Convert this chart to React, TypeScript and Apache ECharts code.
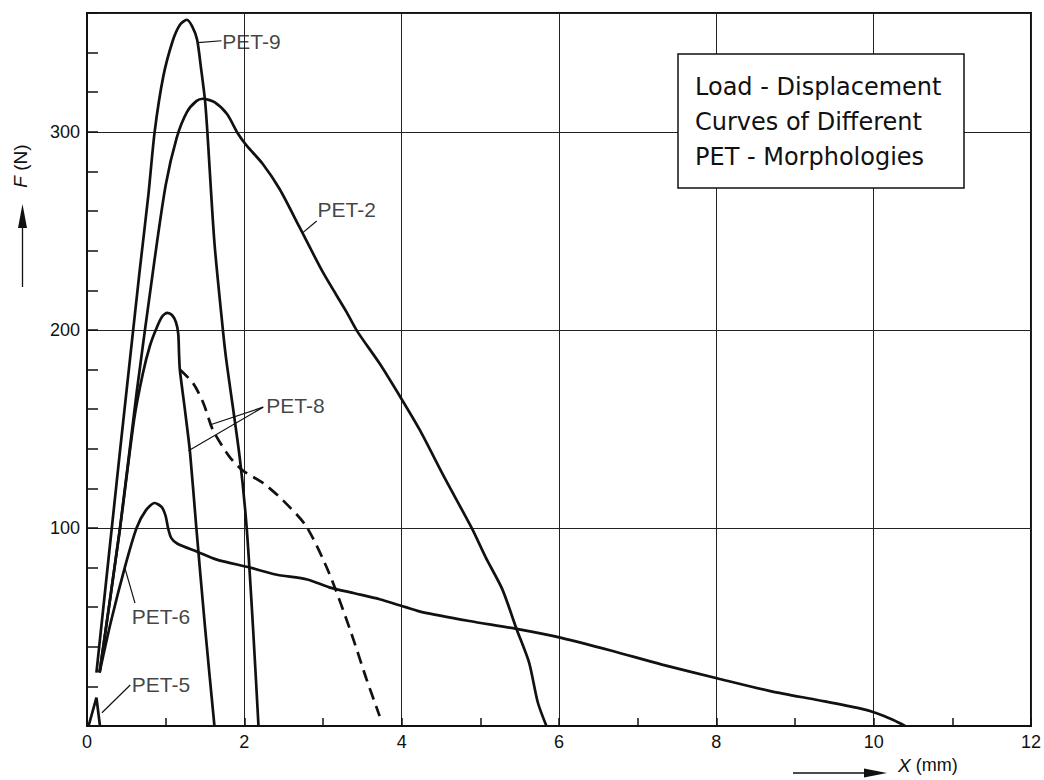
import React, { useEffect, useRef } from "react";
import * as echarts from "echarts";

// Load-displacement curves: [X (mm), F (N)]
const pet9 = [[0.12,27],[0.42,139],[0.67,230],[0.78,268],[0.86,300],[0.97,328],[1.09,346],[1.18,354],[1.27,356.6],[1.34,353],[1.40,346.5],[1.45,332],[1.50,316],[1.53,300],[1.62,244],[1.73,199],[1.77,185],[1.94,136],[2.03,100],[2.11,50],[2.18,0]];
const pet2 = [[0.16,27],[0.42,100],[0.63,168],[0.84,230],[1.0,273],[1.14,297],[1.27,310],[1.39,315.5],[1.47,316.7],[1.62,315],[1.78,309],[1.92,299],[2.03,293],[2.23,284],[2.45,271],[2.70,252],[3.0,229],[3.30,209],[3.44,199],[3.72,183],[4.0,165],[4.23,149.5],[4.55,125],[4.89,100],[5.07,85],[5.28,69],[5.46,49],[5.62,32],[5.73,12],[5.84,0]];
const pet8 = [[0.16,27],[0.42,100],[0.60,155],[0.71,178],[0.80,192],[0.89,201.5],[0.96,207],[1.02,208.6],[1.08,207.5],[1.13,204],[1.16,198],[1.17,188],[1.18,180],[1.25,158],[1.31,138],[1.39,100],[1.50,50],[1.62,0]];
const pet8Dashed = [[1.18,180],[1.35,173],[1.48,163],[1.60,149.5],[1.81,136],[1.98,129],[2.24,122.6],[2.49,114],[2.79,100.7],[3.08,77],[3.35,48],[3.55,24],[3.72,5]];
const pet6 = [[0.16,27],[0.30,52],[0.48,80],[0.63,100],[0.75,109],[0.86,112.6],[0.95,110.5],[1.0,106],[1.03,100],[1.07,95],[1.15,92],[1.40,88],[1.65,84],[2.07,80],[2.4,76.5],[2.8,74],[3.08,70],[3.4,67],[3.72,64],[4.05,60],[4.26,57.5],[4.86,53],[5.46,49],[6.03,44.5],[6.67,38],[7.31,31],[8.02,24],[8.7,17.5],[9.3,13],[9.81,9],[10.03,6.6],[10.25,3],[10.4,0]];
const pet5 = [[0.02,0],[0.12,14.3],[0.165,0]];

// curve labels and leader lines
const labelTexts = ["PET-9", "PET-2", "PET-8", "PET-6", "PET-5"];
const labelAnchors = [[1.72,345.5],[2.93,261],[2.28,162],[0.57,55.5],[0.57,21]];
const leaders = [
  [[1.41,345],[1.71,346]],
  [[2.74,249],[2.92,255]],
  [[1.56,152],[2.24,161]],
  [[1.29,139],[2.24,161]],
  [[0.48,80],[0.61,62]],
  [[0.19,6.7],[0.55,20.7]],
];

const xLabelValues = [0, 2, 4, 6, 8, 10, 12];
const yLabelValues = [100, 200, 300];
const titleLines = ["Load - Displacement", "Curves of Different", "PET - Morphologies"];

const FONT = "Liberation Sans";
const TITLE_FONT = "DejaVu Sans";
const INK = "#111";

export default function App() {
  const ref = useRef<HTMLDivElement>(null);
  useEffect(() => {
    if (!ref.current) return;
    const chart = echarts.init(ref.current, undefined, { renderer: "svg" });
    const curve = (name: string, data: number[][], dashed = false, smooth: number | boolean = 0.25) => ({
      name,
      type: "line",
      data,
      smooth,
      symbol: "none",
      silent: true,
      lineStyle: { color: INK, width: 2.7, type: dashed ? [12, 7] : "solid" },
      z: 3,
    });
    const leaderSeries = leaders.map((d, i) => ({
      name: "leader" + i,
      type: "line",
      data: d,
      symbol: "none",
      silent: true,
      lineStyle: { color: INK, width: 1.2 },
      z: 3,
    }));
    const option: any = {
      animation: false,
      backgroundColor: "#fff",
      grid: { left: 87, right: 10, top: 13, bottom: 54, show: true, borderColor: INK, borderWidth: 2, backgroundColor: "transparent" },
      xAxis: [
        {
          type: "value", min: 0, max: 12, interval: 1,
          axisLine: { show: true, onZero: false, lineStyle: { color: INK, width: 2 } },
          axisTick: { show: true, inside: true, length: 8, lineStyle: { color: INK, width: 1.5 } },
          axisLabel: {
            color: INK, fontSize: 18, fontFamily: FONT, margin: 7,
            formatter: (v: number) => (xLabelValues.includes(v) ? String(v) : ""),
          },
          splitLine: { show: false },
        },
        {
          type: "value", min: 0, max: 12, interval: 2, position: "top",
          axisLine: { show: false }, axisTick: { show: false }, axisLabel: { show: false },
          splitLine: { show: true, lineStyle: { color: "#222", width: 1 } },
        },
      ],
      yAxis: [
        {
          type: "value", min: 0, max: 360, interval: 20,
          axisLine: { show: true, onZero: false, lineStyle: { color: INK, width: 2 } },
          axisTick: { show: true, inside: true, length: 11, lineStyle: { color: INK, width: 1.5 } },
          axisLabel: {
            color: INK, fontSize: 18, fontFamily: FONT, margin: 7,
            formatter: (v: number) => (yLabelValues.includes(v) ? String(v) : ""),
          },
          splitLine: { show: false },
        },
        {
          type: "value", min: 0, max: 360, interval: 100, position: "right",
          axisLine: { show: false }, axisTick: { show: false }, axisLabel: { show: false },
          splitLine: { show: true, lineStyle: { color: "#222", width: 1 } },
        },
      ],
      series: [
        curve("PET-9", pet9),
        curve("PET-2", pet2),
        curve("PET-8", pet8),
        curve("PET-8 dashed", pet8Dashed, true),
        curve("PET-6", pet6),
        curve("PET-5", pet5, false, false),
        ...leaderSeries,
        {
          name: "labels",
          type: "scatter",
          symbolSize: 0,
          silent: true,
          data: labelAnchors.map((p, i) => ({ value: p, name: labelTexts[i] })),
          label: {
            show: true, position: "right", distance: 0,
            formatter: (p: any) => p.name,
            color: INK, fontSize: 21, fontFamily: FONT,
          },
          z: 4,
        },
      ],
      graphic: [
        {
          type: "group", z: 100,
          children: [
            { type: "rect", shape: { x: 678, y: 54, width: 286, height: 134 }, style: { fill: "#fff", stroke: INK, lineWidth: 1.5 }, z: 100 },
            ...titleLines.map((t, i) => ({
              type: "text", x: 695, y: 87 + i * 35, z: 101,
              style: { text: t, fontSize: 24, fontFamily: TITLE_FONT, fill: INK, textAlign: "left", verticalAlign: "middle" },
            })),
          ],
        },
        {
          type: "text", x: 20, y: 166, rotation: Math.PI / 2, z: 100,
          style: {
            text: "{i|F} (N)", fontSize: 19, fontFamily: FONT, fill: INK, textAlign: "center", verticalAlign: "middle",
            rich: { i: { fontStyle: "italic", fontSize: 19, fontFamily: FONT, fill: INK } },
          },
        },
        { type: "line", z: 100, shape: { x1: 22.5, y1: 287, x2: 22.5, y2: 220 }, style: { stroke: INK, lineWidth: 1.3 } },
        { type: "polygon", z: 100, shape: { points: [[22.5, 204], [18, 228], [27, 228]] }, style: { fill: INK } },
        { type: "line", z: 100, shape: { x1: 793, y1: 773, x2: 872, y2: 773 }, style: { stroke: INK, lineWidth: 1.3 } },
        { type: "polygon", z: 100, shape: { points: [[887, 773], [864, 768.5], [864, 777.5]] }, style: { fill: INK } },
        {
          type: "text", x: 898, y: 765, z: 100,
          style: {
            text: "{i|X} (mm)", fontSize: 18, fontFamily: FONT, fill: INK, textAlign: "left", verticalAlign: "middle",
            rich: { i: { fontStyle: "italic", fontSize: 19, fontFamily: FONT, fill: INK } },
          },
        },
      ],
    };
    chart.setOption(option);
    return () => chart.dispose();
  }, []);
  return <div ref={ref} style={{ position: "absolute", left: 0, top: 0, width: 1044, height: 780, background: "#fff" }} />;
}
